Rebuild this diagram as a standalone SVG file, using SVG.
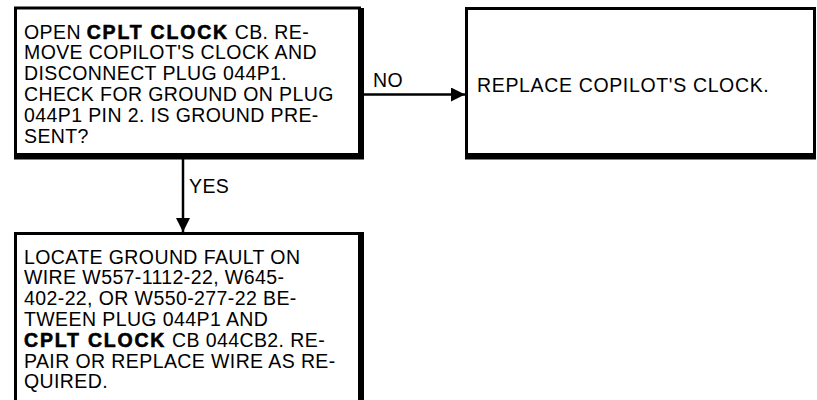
<svg xmlns="http://www.w3.org/2000/svg" width="817" height="400" viewBox="0 0 817 400">
<style>
.box{fill:#fff;stroke:#000;stroke-width:3}
.shadow{fill:none;stroke:#000;stroke-width:5}
.t{font-family:"Liberation Sans",Arial,Helvetica,sans-serif;font-size:19.5px;letter-spacing:0.4px;fill:#000}
.b{font-weight:bold;letter-spacing:1.8px;stroke:#000;stroke-width:0.6}
.conn{stroke:#000;stroke-width:2.5;fill:none}
</style>
<defs>
<marker id="arr" markerWidth="15" markerHeight="14" refX="14" refY="7" orient="auto" markerUnits="userSpaceOnUse">
<path d="M0,0 L14,7 L0,14 z" fill="#000"/>
</marker>
</defs>
<rect width="817" height="400" fill="#fff"/>
<g id="connectors">
<path class="conn" d="M362 94.5 H465" marker-end="url(#arr)"/>
<text class="t" x="373" y="87">NO</text>
<path class="conn" d="M183 158 V232" marker-end="url(#arr)"/>
<text class="t" x="189" y="193">YES</text>
</g>
<g id="node1">
<rect class="box" x="15.5" y="8" width="344" height="146.5"/>
<path class="shadow" d="M361.5 8 V157 H14"/>
<text class="t" x="24" y="38.5">OPEN <tspan class="b">CPLT CLOCK</tspan> CB. RE-</text>
<text class="t" x="24" y="59.3">MOVE COPILOT'S CLOCK AND</text>
<text class="t" x="24" y="80.1">DISCONNECT PLUG 044P1.</text>
<text class="t" x="24" y="100.9">CHECK FOR GROUND ON PLUG</text>
<text class="t" x="24" y="121.7">044P1 PIN 2. IS GROUND PRE-</text>
<text class="t" x="24" y="142.5">SENT?</text>
</g>
<g id="node2">
<rect class="box" x="466.5" y="8.5" width="348" height="146"/>
<path class="shadow" d="M465 157 H816"/>
<text class="t" x="477" y="92" style="letter-spacing:0.65px">REPLACE COPILOT'S CLOCK.</text>
</g>
<g id="node3">
<rect class="box" x="15.5" y="233.5" width="344" height="180"/>
<path class="shadow" d="M361.5 232 V402"/>
<text class="t" x="24" y="263.5">LOCATE GROUND FAULT ON</text>
<text class="t" x="24" y="284.3">WIRE W557-1112-22, W645-</text>
<text class="t" x="24" y="305.1">402-22, OR W550-277-22 BE-</text>
<text class="t" x="24" y="325.9">TWEEN PLUG 044P1 AND</text>
<text class="t" x="24" y="346.7"><tspan class="b">CPLT CLOCK</tspan> CB 044CB2. RE-</text>
<text class="t" x="24" y="367.5">PAIR OR REPLACE WIRE AS RE-</text>
<text class="t" x="24" y="388.3">QUIRED.</text>
</g>
</svg>
